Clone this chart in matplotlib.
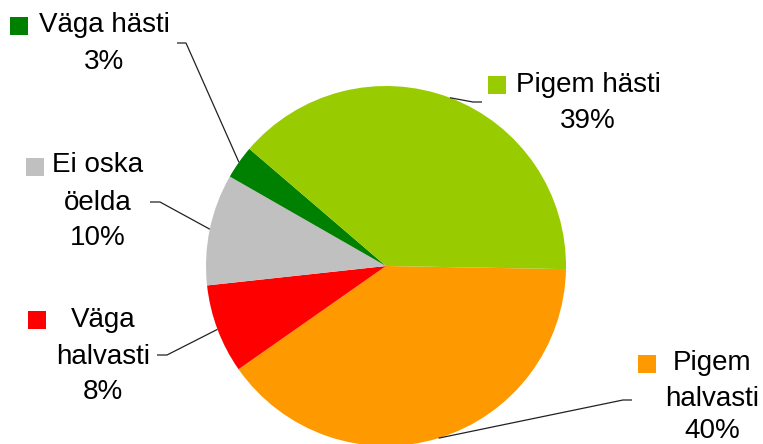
import numpy as np
import matplotlib.pyplot as plt

plt.rcParams['font.family'] = ['Liberation Sans', 'DejaVu Sans']

# data (clockwise from the right)
names = ['Pigem halvasti', 'Väga halvasti', 'Ei oska öelda', 'Väga hästi', 'Pigem hästi']
shares = [40, 8, 10, 3, 39]
colors = ['#FF9900', '#FF0000', '#C0C0C0', '#008000', '#99CC00']
label_lines = [['Pigem', 'halvasti', '40%'],
               ['Väga', 'halvasti', '8%'],
               ['Ei oska', 'öelda', '10%'],
               ['Väga hästi', '3%'],
               ['Pigem hästi', '39%']]

H = 444
def fy(py):
    return H - py

fig = plt.figure(figsize=(7.63, 4.44), dpi=100)
ax = fig.add_axes([0, 0, 1, 1])

cx, cy, r = 386, fy(266), 180
wedges, _ = ax.pie(shares, colors=colors, startangle=-1, counterclock=False,
                   center=(cx, cy), radius=r, frame=True,
                   wedgeprops=dict(linewidth=0))

# text layout: x centre of text, y of each line, square position, leader elbow
lay = [
    dict(x=712, ys=[363, 399, 431], sq=(647, 364), elbow=(623, 400), stub=632),
    dict(x=103, ys=[320, 357, 392], sq=(37, 320), elbow=(167, 355), stub=157),
    dict(x=98, ys=[165, 203, 238], sq=(35, 167), elbow=(160, 202), stub=150),
    dict(x=104, ys=[25, 62], sq=(19, 26), elbow=(186, 43), stub=177),
    dict(x=588, ys=[85, 121], sq=(497, 85), elbow=(473, 102), stub=482),
]

for w, lines, c, L in zip(wedges, label_lines, colors, lay):
    for t, yy in zip(lines, L['ys']):
        ax.text(L['x'], fy(yy), t, ha='center', va='center', fontsize=20, color='#000000')
    ax.plot(L['sq'][0], fy(L['sq'][1]), marker='s', ms=12.5, color=c, mew=0)
    ang = np.deg2rad((w.theta1 + w.theta2) / 2)
    ex, ey = cx + r * np.cos(ang), cy + r * np.sin(ang)
    bx, by = L['elbow']
    ax.plot([ex, bx, L['stub']], [ey, fy(by), fy(by)], color='#222222', lw=0.9,
            solid_capstyle='butt')

ax.set_xlim(0, 763)
ax.set_ylim(0, H)
ax.set_aspect('equal')
ax.axis('off')
fig.savefig('out.png', dpi=100)
